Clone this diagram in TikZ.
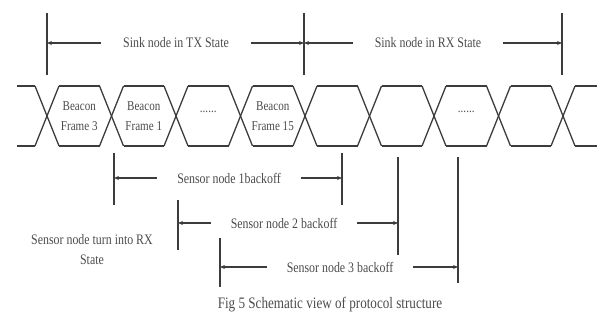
\documentclass[tikz,border=0pt]{standalone}
\usepackage{fontspec}
\setmainfont[FakeStretch=0.82]{Liberation Serif}
\usetikzlibrary{arrows.meta, positioning, calc}
\definecolor{wavegray}{RGB}{60,60,60}
\definecolor{textgray}{RGB}{75,75,75}

\begin{document}
\begin{tikzpicture}[
  x=1pt, y=-1pt,
  wave/.style={draw=wavegray, line width=1.3pt, line join=round},
  bar/.style={draw=wavegray, line width=1.3pt},
  arr/.style={-{Stealth[length=5pt,width=4pt]}, line width=1.2pt, wavegray},
  lbl/.style={font=\fontsize{14.5}{20}\selectfont, text=textgray, inner xsep=20pt,
    inner ysep=0pt, align=center},
  cell/.style={font=\fontsize{13.5}{20}\selectfont, text=textgray, align=center},
]
  \useasboundingbox (0,0) rectangle (602,320);

  % sink node states
  \coordinate (txL) at (47,43);
  \coordinate (mid) at (304,43);
  \coordinate (rxR) at (562,43);
  \foreach \c in {txL, mid, rxR}
    \draw[bar] ($(\c)+(0,-30)$) -- ($(\c)+(0,32)$);
  \node[lbl, inner xsep=22pt] (tx) at (176,43) {Sink node in TX State};
  \node[lbl, inner xsep=22pt] (rx) at (428,43) {Sink node in RX State};
  \draw[arr] (tx) -- (txL);
  \draw[arr] (tx) -- (mid);
  \draw[arr] (rx) -- (mid);
  \draw[arr] (rx) -- (rxR);

  % frame waveform
  \draw[wave] (17,86) -- (35,86);
  \draw[wave] (17,146) -- (35,146);
  \foreach \k in {0,...,8} {
    \pgfmathsetmacro\xc{47+64.5*\k}
    \draw[wave] ({\xc-12},86) -- ({\xc+12},146);
    \draw[wave] ({\xc-12},146) -- ({\xc+12},86);
  }
  \foreach \k in {0,...,7} {
    \pgfmathsetmacro\xc{47+64.5*\k}
    \draw[wave] ({\xc+12},86) -- ({\xc+52.5},86);
    \draw[wave] ({\xc+12},146) -- ({\xc+52.5},146);
  }
  \draw[wave] (575,86) -- (597,86);
  \draw[wave] (575,146) -- (597,146);

  \node[cell] (f0) at (79.25,116) {Beacon\\Frame 3};
  \node[cell] (f1) at (143.75,116) {Beacon\\Frame 1};
  \node[cell] (f2) at (208.25,112) {......};
  \node[cell] (f3) at (272.75,116) {Beacon\\Frame 15};
  \node[cell] (f6) at (466.25,112) {......};

  % sensor backoffs
  \coordinate (s1L) at (114,178);
  \coordinate (s1R) at (342,178);
  \coordinate (s2L) at (178,223);
  \coordinate (s2R) at (398,223);
  \coordinate (s3L) at (220,267);
  \coordinate (s3R) at (458,267);
  \draw[bar] ($(s1L)+(0,-25)$) -- ($(s1L)+(0,27)$);
  \draw[bar] ($(s1R)+(0,-25)$) -- ($(s1R)+(0,27)$);
  \draw[bar] ($(s2L)+(0,-23)$) -- ($(s2L)+(0,27)$);
  \draw[bar] ($(s2R)+(0,-66)$) -- ($(s2R)+(0,32)$);
  \draw[bar] ($(s3L)+(0,-29)$) -- ($(s3L)+(0,20)$);
  \draw[bar] ($(s3R)+(0,-110)$) -- ($(s3R)+(0,16)$);

  \node[lbl] (s1) at (229,178) {Sensor node 1backoff};
  \node[lbl] (s2) at (284,223) {Sensor node 2 backoff};
  \node[lbl] (s3) at (340,267) {Sensor node 3 backoff};
  \draw[arr] (s1) -- (s1L);
  \draw[arr] (s1) -- (s1R);
  \draw[arr] (s2) -- (s2L);
  \draw[arr] (s2) -- (s2R);
  \draw[arr] (s3) -- (s3L);
  \draw[arr] (s3) -- (s3R);

  \node[lbl, inner xsep=0pt] (turn) at (92,250) {Sensor node turn into RX\\State};
  \node[lbl, inner xsep=0pt, font=\fontsize{16}{20}\selectfont] (cap) at (330,305)
    {Fig 5 Schematic view of protocol structure};
\end{tikzpicture}
\end{document}
